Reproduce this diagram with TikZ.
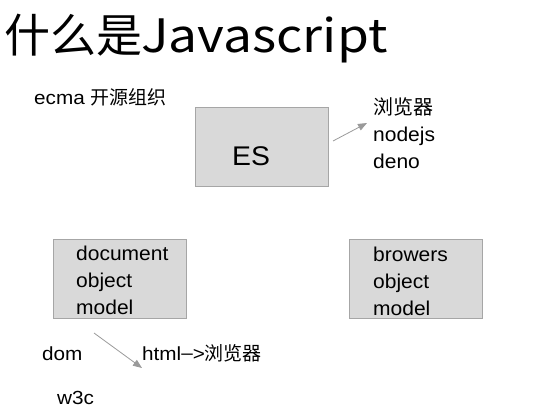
\documentclass[tikz,border=0pt]{standalone}
\usepackage{fontspec}
\setmainfont{Liberation Sans}
\newfontfamily\wideA{Liberation Sans}[FakeStretch=1.05]
\newfontfamily\wideB{Liberation Sans}[FakeStretch=1.09]
\newfontfamily\cjk{Noto Sans CJK SC}
\usetikzlibrary{arrows.meta}
\definecolor{boxfill}{HTML}{D9D9D9}
\definecolor{boxline}{HTML}{A6A6A6}
\definecolor{arrowgray}{HTML}{9A9A9A}
\tikzset{
  gbox/.style={draw=boxline, fill=boxfill, line width=0.8pt},
  txt/.style={anchor=base west, inner sep=0pt, font=\wideA\fontsize{20}{24}\selectfont},
  lbl/.style={anchor=base west, inner sep=0pt, font=\wideB\fontsize{19}{22}\selectfont},
  arr/.style={draw=arrowgray, line width=0.8pt, -{Triangle[length=9pt,width=7pt]}}
}
\begin{document}
\begin{tikzpicture}[x=1pt,y=-1pt]
\useasboundingbox (0,0) rectangle (552,413);
% title
\node[anchor=base west, inner sep=0pt, font=\fontsize{46}{52}\selectfont] (title) at (4,52) {\cjk{什么是}\hspace{-1pt}\scalebox{1.12}[1]{Javascript}};
% ecma
\node[lbl] (ecma) at (34,104) {ecma \cjk{开源组织}};
% boxes
\draw[gbox] (195,107) rectangle (328,186);
\coordinate (esbox) at (261.5,146.5);
\draw[gbox] (53,239) rectangle (186,318);
\draw[gbox] (349,239) rectangle (482,318);
% ES
\node[anchor=base west, inner sep=0pt, font=\wideA\fontsize{27}{30}\selectfont] (es) at (232,165) {ES};
% right list
\node[txt] (bro) at (373,114) {\cjk{浏览器}};
\node[txt] (node) at (373,141) {nodejs};
\node[txt] (deno) at (373,168) {deno};
% dom box
\node[txt] (doc) at (76,260) {document};
\node[txt] (obj1) at (76,287) {object};
\node[txt] (mod1) at (76,314) {model};
% bom box
\node[txt] (brw) at (373,261) {browers};
\node[txt] (obj2) at (373,288) {object};
\node[txt] (mod2) at (373,315) {model};
% bottom
\node[lbl] (dom) at (42,360) {dom};
\node[lbl] (html) at (142,360) {html{\raisebox{0.5pt}{–}}>\cjk{浏览器}};
\node[lbl] (w3c) at (57,404) {w3c};
% arrows
\coordinate (a1s) at (333,141);
\coordinate (a1e) at (367,123);
\coordinate (a2s) at (94,333);
\coordinate (a2e) at (142,368);
\draw[arr] (a1s) -- (a1e);
\draw[arr] (a2s) -- (a2e);
\end{tikzpicture}
\end{document}
